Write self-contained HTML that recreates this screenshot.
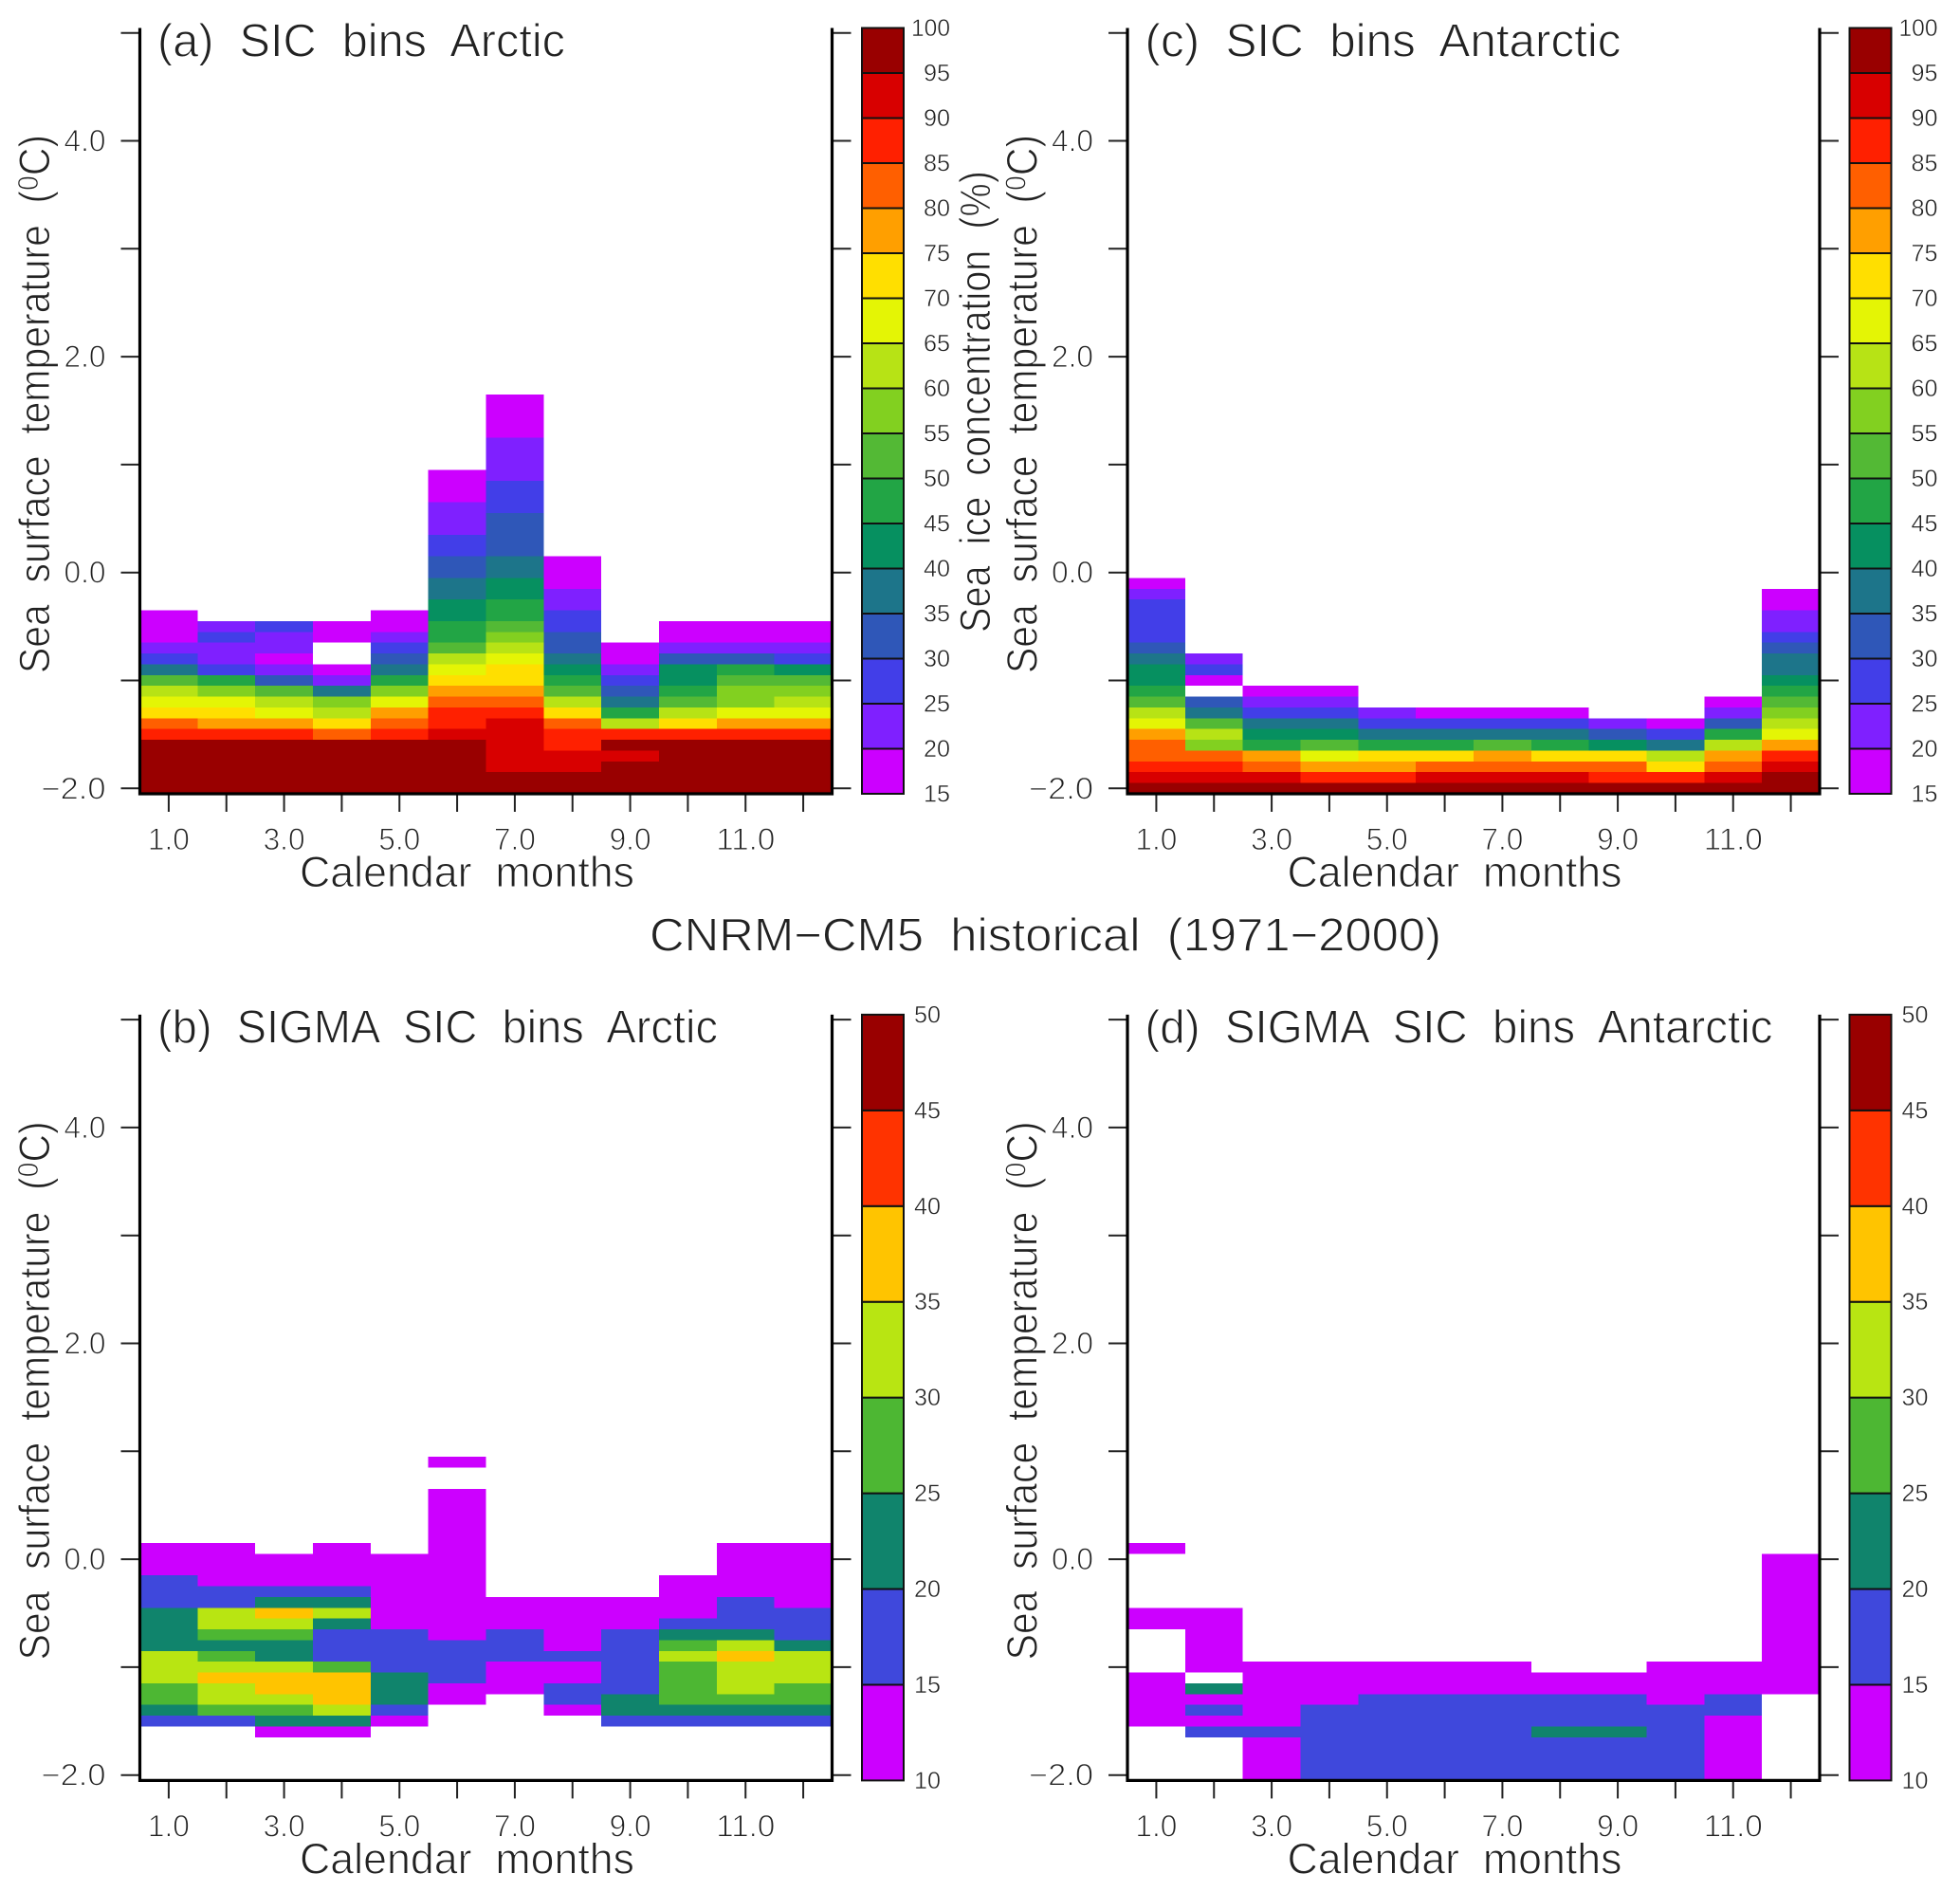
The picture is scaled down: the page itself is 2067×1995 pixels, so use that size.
<!DOCTYPE html>
<html lang="en">
<head>
<meta charset="utf-8">
<title>CNRM-CM5 historical (1971-2000)</title>
<style>
html,body{margin:0;padding:0;background:#fff;}
svg{display:block;}
text{font-family:"Liberation Sans",sans-serif;fill:#222;white-space:pre;stroke:#fff;stroke-width:1px;}
</style>
</head>
<body>
<svg id="figure" xmlns="http://www.w3.org/2000/svg" width="2067" height="1995" viewBox="0 0 2067 1995">
<rect width="2067" height="1995" fill="#ffffff"/>
<text x="685" y="1002.7" font-size="49" textLength="835" lengthAdjust="spacingAndGlyphs">CNRM−CM5  historical  (1971−2000)</text>
</svg>
<script>
const _ = null;
// Calendar month axis
const months = [1,2,3,4,5,6,7,8,9,10,11,12];
const monthLabels = ["1.0","","3.0","","5.0","","7.0","","9.0","","11.0",""];
// Sea surface temperature axis
const sstTicks = [-2,-1,0,1,2,3,4,5];
const sstLabels = ["−2.0","","0.0","","2.0","","4.0",""];
// First SST bin centre and bin size
const sstFirstBin = -2.0;
const sstBinSize = 0.1;
// Colour levels
const sicLevels = [15,20,25,30,35,40,45,50,55,60,65,70,75,80,85,90,95,100];
const sicColors = ["#cc00ff","#7f20ff","#423ee8","#2f57b8","#1d758a","#069060","#22a545","#53b935","#82d020","#b7e315","#e4f505","#ffdf00","#ff9f00","#ff5f00","#ff2000","#d80000","#990000"];
const sigmaLevels = [10,15,20,25,30,35,40,45,50];
const sigmaColors = ["#cc00ff","#3f48dc","#10846c","#4db733","#b8e512","#ffc400","#ff3300","#990000"];

// (a) each row: one month, values per SST bin from -2.0 upward
const sicArctic = [
[97,97,97,97,97,87,82,72,67,62,52,37,27,22,17,17,17],
[97,97,97,97,97,87,77,72,67,57,47,27,22,22,27,22],
[97,97,97,97,97,87,77,67,62,52,32,22,17,22,22,27],
[97,97,97,97,97,82,72,62,57,37,22,17,_,_,17,17],
[97,97,97,97,97,87,82,77,67,57,47,37,32,27,22,17,17],
[97,97,97,97,97,92,87,87,82,77,72,67,62,52,47,47,42,42,37,37,32,32,27,27,22,22,22,17,17,17],
[97,97,92,92,92,92,92,87,82,77,72,72,67,62,57,52,47,47,42,42,37,37,32,32,32,32,27,27,27,22,22,22,22,17,17,17,17],
[97,97,92,92,87,87,82,72,62,52,47,42,37,32,32,27,27,22,22,17,17,17],
[97,97,97,92,97,87,62,47,37,32,27,22,17,17],
[97,97,97,97,97,87,72,62,52,47,42,42,32,22,17,17],
[97,97,97,97,97,87,77,67,57,57,52,47,32,22,17,17],
[97,97,97,97,97,87,77,67,62,57,52,42,27,22,17,17]
];
// (c)
const sicAntarctic = [
[97,92,87,82,82,77,67,62,52,47,42,42,37,32,27,27,27,27,22,17],
[97,92,87,82,57,62,52,37,32,_,17,27,22],
[97,92,82,77,47,42,37,27,22,17],
[97,87,77,67,52,42,37,27,22,17],
[97,87,77,72,47,37,27,22],
[97,92,82,72,47,37,27,17],
[97,92,82,77,52,37,27,17],
[97,92,82,72,47,37,27,17],
[97,87,82,72,42,32,22],
[97,87,72,62,37,27,17],
[97,92,82,77,62,47,32,22,17],
[97,97,92,87,77,67,62,57,52,47,42,37,37,32,27,22,22,17,17]
];
// (b)
const sigmaArctic = [
[_,_,_,_,_,17,22,27,27,32,32,32,22,22,22,22,17,17,17,12,12,12],
[_,_,_,_,_,17,27,32,32,37,32,27,22,27,32,32,17,17,12,12,12,12],
[_,_,_,_,12,22,27,32,37,37,32,22,22,27,32,37,22,17,12,12,12],
[_,_,_,_,12,22,32,37,37,37,27,17,17,17,22,32,22,17,12,12,12,12],
[_,_,_,_,_,12,17,22,22,22,17,17,17,17,12,12,12,12,12,12,12],
[_,_,_,_,_,_,_,12,12,17,17,17,17,12,12,12,12,12,12,12,12,12,12,12,12,12,12,_,_,12],
[_,_,_,_,_,_,_,_,12,12,12,17,17,17,12,12,12],
[_,_,_,_,_,_,12,17,17,12,12,17,12,12,12,12,12],
[_,_,_,_,_,17,22,22,17,17,17,17,17,17,12,12,12],
[_,_,_,_,_,17,22,27,27,27,27,32,27,22,17,12,12,12,12],
[_,_,_,_,_,17,22,27,32,32,32,37,32,22,17,17,17,12,12,12,12,12],
[_,_,_,_,_,17,22,27,27,32,32,32,22,17,17,17,12,12,12,12,12,12]
];
// (d)
const sigmaAntarctic = [
[_,_,_,_,_,12,12,12,12,12,_,_,_,_,12,12,_,_,_,_,_,12],
[_,_,_,_,17,12,17,12,22,_,12,12,12,12,12,12],
[12,12,12,12,17,12,12,12,12,12,12],
[17,17,17,17,17,17,17,12,12,12,12],
[17,17,17,17,17,17,17,17,12,12,12],
[17,17,17,17,17,17,17,17,12,12,12],
[17,17,17,17,17,17,17,17,12,12,12],
[17,17,17,17,22,17,17,17,12,12],
[17,17,17,17,22,17,17,17,12,12],
[17,17,17,17,17,17,17,12,12,12,12],
[12,12,12,12,12,12,17,17,12,12,12],
[_,_,_,_,_,_,_,_,12,12,12,12,12,12,12,12,12,12,12,12,12]
];

const svg = document.getElementById('figure');
const NS = 'http://www.w3.org/2000/svg';

function make(tag, attrs) {
  const el = document.createElementNS(NS, tag);
  for (const k in attrs) el.setAttribute(k, attrs[k]);
  svg.appendChild(el);
  return el;
}
function colorFor(value, levels, colors) {
  for (let i = 0; i < colors.length; i++) {
    if (value >= levels[i] && value < levels[i + 1]) return colors[i];
  }
  return value < levels[0] ? colors[0] : colors[colors.length - 1];
}
function tickWidth(label) {
  if (label.charAt(0) === '−') return 68;
  return label.length === 4 ? 62 : 44;
}
function rotatedTitle(x, yBottom, length, size, name, parts) {
  const t = make('text', {x: x, y: yBottom, 'font-size': size, textLength: length, lengthAdjust: 'spacingAndGlyphs', transform: 'rotate(-90 ' + x + ' ' + yBottom + ')'});
  
  
  parts(t);
  return t;
}

function drawPanel(key, title, titleWidth, matrix, levels, colors, dx, dy) {
  const plotLeft = 147.5 + dx, plotWidth = 730, plotRight = plotLeft + plotWidth;
  const plotBottom = 837 + dy, plotTop = 29.5 + dy;
  const xScale = m => plotLeft + (m - 0.5) * plotWidth / 12;
  const yScale = v => 831.3 + dy - (v + 2) * 113.8;

  // heatmap cells
  matrix.forEach((column, mi) => {
    column.forEach((value, bi) => {
      if (value === null) return;
      const sst = sstFirstBin + bi * sstBinSize;
      const x0 = xScale(months[mi] - 0.5), x1 = xScale(months[mi] + 0.5);
      const y0 = yScale(sst + sstBinSize / 2), y1 = yScale(sst - sstBinSize / 2);
      const cell = make('rect', {x: x0, y: y0, width: x1 - x0, height: y1 - y0, fill: colorFor(value, levels, colors), 'shape-rendering': 'crispEdges'});
      
      
    });
  });

  // y ticks, both sides
  sstTicks.forEach((v, i) => {
    const y = yScale(v);
    const left = make('line', {x1: plotLeft - 20, x2: plotLeft, y1: y, y2: y, stroke: '#222', 'stroke-width': 2});
    
    
    const right = make('line', {x1: plotRight, x2: plotRight + 20, y1: y, y2: y, stroke: '#222', 'stroke-width': 2});
    
    
    if (sstLabels[i]) {
      const lab = make('text', {x: 111.5 + dx, y: y + 11, 'font-size': 32, 'text-anchor': 'end', textLength: tickWidth(sstLabels[i]), lengthAdjust: 'spacingAndGlyphs'});
      lab.textContent = sstLabels[i];
      
      
    }
  });

  // x ticks
  months.forEach((m, i) => {
    const x = xScale(m);
    const tick = make('line', {x1: x, x2: x, y1: plotBottom, y2: plotBottom + 19, stroke: '#222', 'stroke-width': 2});
    
    
    if (monthLabels[i]) {
      const lab = make('text', {x: x, y: 896 + dy, 'font-size': 32, 'text-anchor': 'middle', textLength: tickWidth(monthLabels[i]), lengthAdjust: 'spacingAndGlyphs'});
      lab.textContent = monthLabels[i];
      
      
    }
  });

  // spines
  const spines = make('path', {d: 'M' + plotLeft + ' ' + plotTop + 'V' + plotBottom + 'H' + plotRight + 'V' + plotTop, fill: 'none', stroke: '#000', 'stroke-width': 3.2});
  
  

  // panel title
  const head = make('text', {x: 166 + dx, y: 59.3 + dy, 'font-size': 49, textLength: titleWidth, lengthAdjust: 'spacingAndGlyphs'});
  head.textContent = title;
  
  

  // x axis title
  const xTitle = make('text', {x: 316 + dx, y: 935 + dy, 'font-size': 45, textLength: 353, lengthAdjust: 'spacingAndGlyphs'});
  xTitle.textContent = 'Calendar  months';
  
  

  // y axis title
  rotatedTitle(52 + dx, 710 + dy, 568, 45, 'y-axis-title', t => {
    t.appendChild(document.createTextNode('Sea  surface  temperature  ('));
    const sup = document.createElementNS(NS, 'tspan');
    sup.setAttribute('dy', '-12');
    sup.setAttribute('font-size', '31');
    sup.textContent = '0';
    t.appendChild(sup);
    const rest = document.createElementNS(NS, 'tspan');
    rest.setAttribute('dy', '12');
    rest.textContent = 'C)';
    t.appendChild(rest);
  });

  // colour bar
  const barTop = plotTop, barBottom = plotBottom, barH = barBottom - barTop;
  const n = colors.length;
  const labelEnd = (levels === sigmaLevels ? 992 : 1002) + dx;
  colors.forEach((c, i) => {
    const y1 = barBottom - i * barH / n, y0 = barBottom - (i + 1) * barH / n;
    const seg = make('rect', {x: 909 + dx, y: y0, width: 44, height: y1 - y0, fill: c, stroke: '#111', 'stroke-width': 2});
    
    
  });
  levels.forEach((lv, i) => {
    const y = barBottom - i * barH / n;
    const s = String(lv);
    const lab = make('text', {x: labelEnd, y: y + 8.5, 'font-size': 25, 'text-anchor': 'end', textLength: s.length === 3 ? 41 : 28, lengthAdjust: 'spacingAndGlyphs', style: 'stroke-width:.5px'});
    lab.textContent = s;
    
    
  });
}

drawPanel('a', '(a)  SIC  bins  Arctic', 430, sicArctic, sicLevels, sicColors, 0, 0);
drawPanel('c', '(c)  SIC  bins  Antarctic', 502, sicAntarctic, sicLevels, sicColors, 1041.5, 0);
drawPanel('b', '(b)  SIGMA  SIC  bins  Arctic', 591, sigmaArctic, sigmaLevels, sigmaColors, 0, 1040.4);
drawPanel('d', '(d)  SIGMA  SIC  bins  Antarctic', 662, sigmaAntarctic, sigmaLevels, sigmaColors, 1041.5, 1040.4);

rotatedTitle(1044, 667, 487, 45, 'colorbar-title', t => {
  t.textContent = 'Sea  ice  concentration  (%)';
});
</script>
</body>
</html>
